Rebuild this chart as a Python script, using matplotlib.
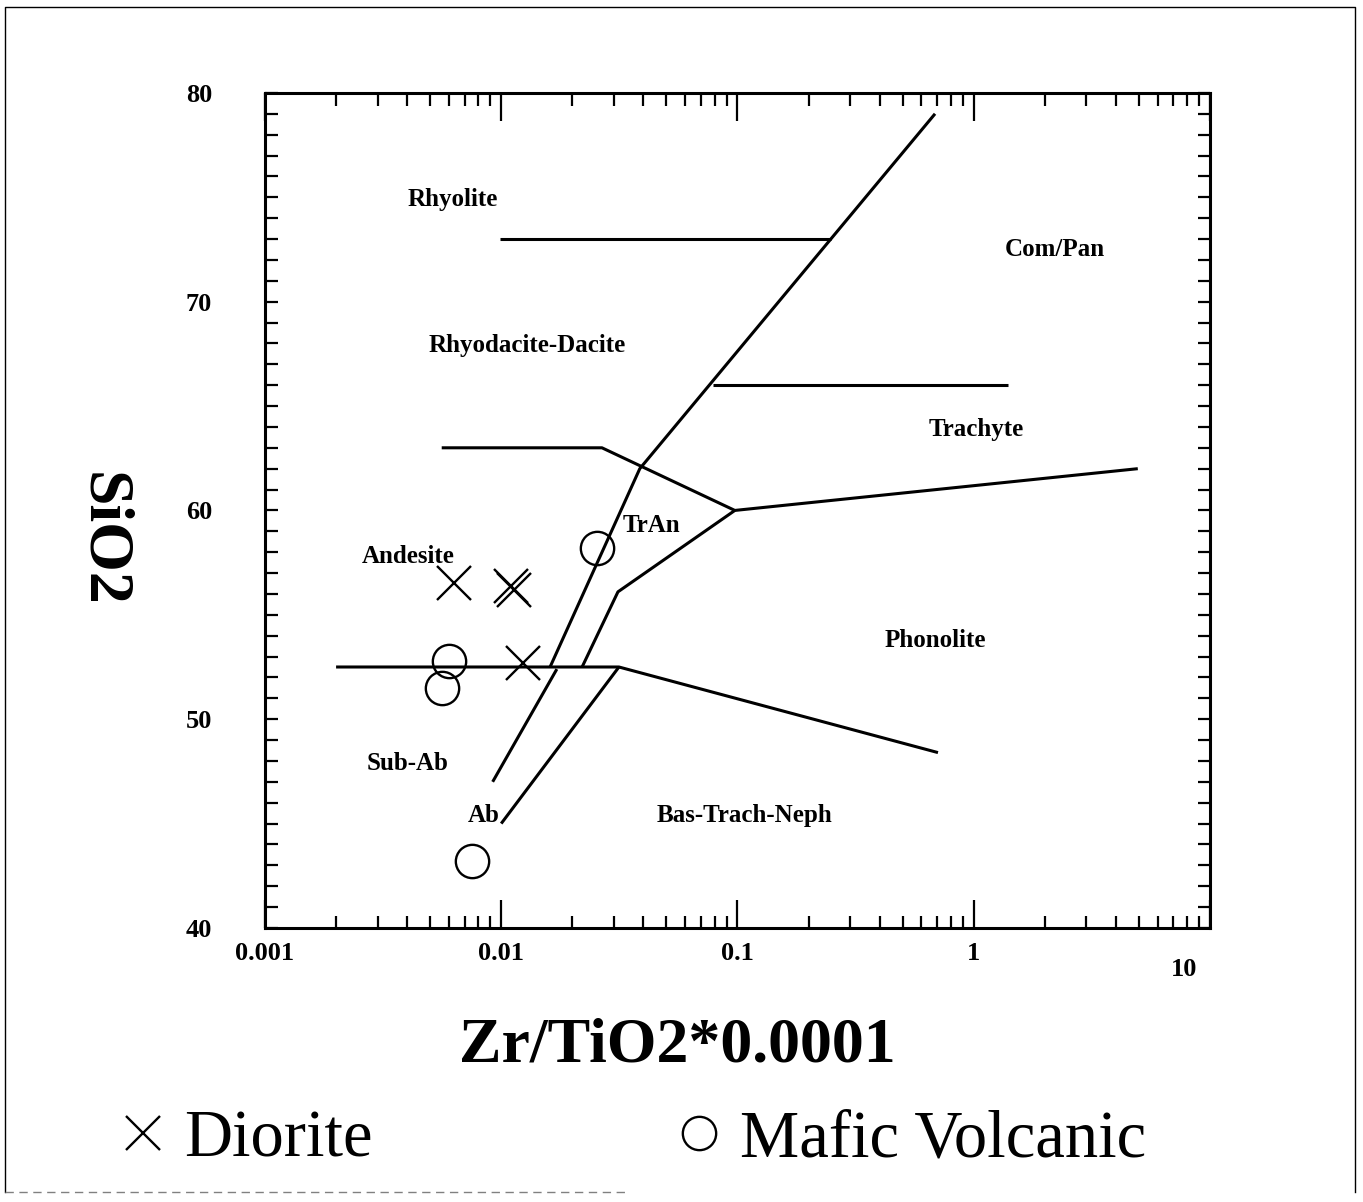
import matplotlib
matplotlib.use("Agg")
import matplotlib.pyplot as plt
from matplotlib.lines import Line2D
from matplotlib.ticker import LogLocator, MultipleLocator, NullFormatter

plt.rcParams["font.family"] = ["Liberation Serif", "DejaVu Serif"]

# samples
diorite_x = [0.0063, 0.0110, 0.0113, 0.0124]
diorite_y = [56.5, 56.4, 56.2, 52.7]
mafic_x = [0.0254, 0.0060, 0.0056, 0.0075]
mafic_y = [58.2, 52.8, 51.5, 43.2]

# field boundaries (Zr/TiO2, SiO2)
rhyolite_x = [0.0099, 0.25]
rhyolite_y = [73, 73]
trachyte_x = [0.079, 1.40]
trachyte_y = [66, 66]
andesite_x = [0.0056, 0.0267, 0.0975, 4.95]
andesite_y = [63, 63, 60, 62]
main_x = [0.0161, 0.0386, 0.686]
main_y = [52.5, 62, 79.0]
tran_x = [0.0975, 0.0312, 0.022]
tran_y = [60, 56.1, 52.5]
basalt_x = [0.002, 0.0315, 0.706]
basalt_y = [52.5, 52.5, 48.4]
subab_x = [0.0092, 0.0172]
subab_y = [47, 52.4]
ab_x = [0.0100, 0.0315]
ab_y = [45, 52.5]

boundaries = [(rhyolite_x, rhyolite_y), (trachyte_x, trachyte_y),
              (andesite_x, andesite_y), (main_x, main_y), (tran_x, tran_y),
              (basalt_x, basalt_y), (subab_x, subab_y), (ab_x, ab_y)]

# field names and label positions
field_names = ["Rhyolite", "Rhyodacite-Dacite", "Com/Pan", "Trachyte", "TrAn",
               "Andesite", "Phonolite", "Sub-Ab", "Ab", "Bas-Trach-Neph"]
field_x = [0.00625, 0.01285, 2.21, 1.03, 0.0431, 0.00403, 0.686, 0.00403, 0.00845, 0.1067]
field_y = [74.9, 67.9, 72.5, 63.9, 59.3, 57.8, 53.75, 47.9, 45.4, 45.4]

x_ticks = [0.001, 0.01, 0.1, 1, 10]
x_labels = ["0.001", "0.01", "0.1", "1", ""]
y_ticks = [40, 50, 60, 70, 80]

fig = plt.figure(figsize=(13.63, 12.02), dpi=100)
ax = fig.add_axes([0.1944, 0.228, 0.6933, 0.6947])
ax.set_xscale("log")
ax.set_xlim(0.001, 10)
ax.set_ylim(40, 80)

for bx, by in boundaries:
    ax.plot(bx, by, color="black", lw=2.2, solid_capstyle="butt")

h1, = ax.plot(diorite_x, diorite_y, ls="none", marker="x", ms=24, mew=1.7,
              color="black", label="Diorite")
h2, = ax.plot(mafic_x, mafic_y, ls="none", marker="o", ms=24, mew=1.7,
              mfc="none", mec="black", label="Mafic Volcanic")

for name, tx, ty in zip(field_names, field_x, field_y):
    ax.text(tx, ty, name, ha="center", va="center", fontsize=18, fontweight="bold")

# axes styling
for s in ax.spines.values():
    s.set_linewidth(2.2)
ax.set_xticks(x_ticks)
ax.set_xticklabels(x_labels)
ax.xaxis.set_minor_locator(LogLocator(base=10, subs=range(2, 10)))
ax.xaxis.set_minor_formatter(NullFormatter())
ax.set_yticks(y_ticks)
ax.yaxis.set_minor_locator(MultipleLocator(1))
ax.tick_params(which="both", direction="in", top=True, right=True, width=1.6)
ax.tick_params(axis="x", which="major", length=20, pad=10, labelsize=19)
ax.tick_params(axis="x", which="minor", length=9)
ax.tick_params(axis="y", which="both", length=9)
ax.tick_params(axis="y", which="major", pad=38, labelsize=19)
for lab in ax.get_xticklabels() + ax.get_yticklabels():
    lab.set_fontweight("bold")
ax.text(7.8, 38.0, "10", ha="center", va="center", fontsize=19,
        fontweight="bold", clip_on=False)

ax.set_xlabel("Zr/TiO2*0.0001", fontsize=46, fontweight="bold")
ax.xaxis.set_label_coords(0.436, -0.142)
ax.xaxis.label.set_va("center")
ax.set_ylabel("SiO2", fontsize=46, fontweight="bold", rotation=-90,
              ha="center", va="center")
ax.yaxis.set_label_coords(-0.172, 0.465)

fig.legend(handles=[h1, h2], loc="center left", bbox_to_anchor=(0.0851, 0.0516),
           ncol=2, frameon=False, fontsize=48, handlelength=0.8,
           handletextpad=0.22, columnspacing=4.5, borderpad=0, borderaxespad=0)

# page frame
W, H = 1363.0, 1202.0
fx = [5 / W, 5 / W, 1355 / W, 1355 / W]
fy = [1 - 1192 / H, 1 - 7 / H, 1 - 7 / H, 1 - 1192 / H]
fig.add_artist(Line2D(fx, fy, transform=fig.transFigure, color="black", lw=1))
fig.add_artist(Line2D([5 / W, 630 / W], [1 - 1192 / H, 1 - 1192 / H],
                      transform=fig.transFigure, color="gray", lw=1, ls=(0, (6, 4))))

fig.savefig("out.png", dpi=100)
